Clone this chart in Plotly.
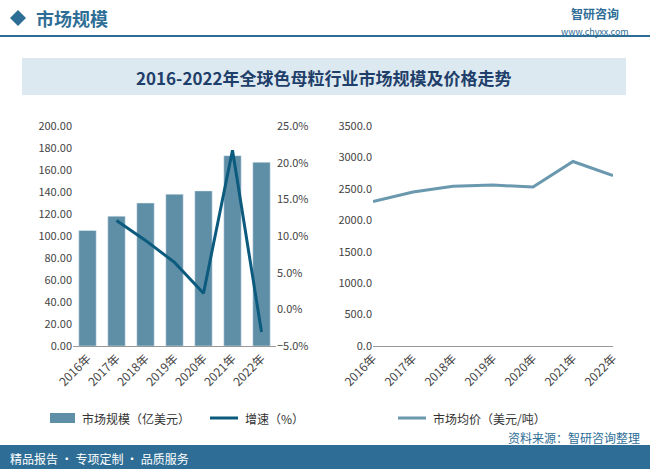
import plotly.graph_objects as go

years = ["2016年", "2017年", "2018年", "2019年", "2020年", "2021年", "2022年"]
market_size = [105, 118, 130, 138, 141, 173, 167]
growth_years = ["2017年", "2018年", "2019年", "2020年", "2021年", "2022年"]
growth = [12.1, 9.4, 6.4, 2.2, 21.7, -3.1]
price = [2300, 2450, 2540, 2560, 2530, 2935, 2710]

H = 469.0
def py(pix):
    return 1 - pix / H

F = "Noto Sans CJK SC"
fig = go.Figure()
fig.add_bar(x=years, y=market_size, marker_color="#5f8fa6", width=0.6, xaxis="x", yaxis="y", showlegend=False)
fig.add_scatter(x=growth_years, y=growth, mode="lines", line=dict(color="#0c5a7d", width=3), xaxis="x", yaxis="y2", showlegend=False)
fig.add_scatter(x=years, y=price, mode="lines", line=dict(color="#6a98ae", width=3), xaxis="x3", yaxis="y3", showlegend=False)

ydom = [py(346), py(126)]
tickf = dict(size=11, color="#444", family=F)
xtickf = dict(size=12, color="#444", family=F)
def ann(text, x, y, size, color, xanchor="left"):
    return dict(text=text, x=x/650, y=py(y), xref="paper", yref="paper", xanchor=xanchor, yanchor="middle", showarrow=False, font=dict(size=size, color=color, family=F))

fig.update_layout(
    width=650, height=469, margin=dict(l=0, r=0, t=0, b=0, autoexpand=False), autosize=False,
    paper_bgcolor="white", plot_bgcolor="rgba(0,0,0,0)", font=dict(family=F),
    xaxis=dict(domain=[73/650, 276/650], tickangle=-45, tickfont=xtickf, showline=True, linecolor="#999", categoryarray=years, categoryorder="array", anchor="y", automargin=False),
    yaxis=dict(domain=ydom, range=[0, 200], dtick=20, tickformat=".2f", tickfont=tickf, showgrid=False, zeroline=False, automargin=False),
    yaxis2=dict(overlaying="y", side="right", anchor="x", range=[-5, 25], dtick=5, ticksuffix="%", tickformat=".1f", tickfont=tickf, showgrid=False, zeroline=False, automargin=False),
    xaxis3=dict(domain=[373/650, 613/650], tickangle=-45, tickfont=xtickf, showline=True, linecolor="#999", anchor="y3", automargin=False),
    yaxis3=dict(domain=ydom, anchor="x3", range=[0, 3500], dtick=500, tickformat=".1f", tickfont=tickf, showgrid=False, zeroline=False, automargin=False),
    shapes=[
        dict(type="rect", xref="paper", yref="paper", x0=22/650, x1=626/650, y0=py(95), y1=py(58), fillcolor="#dde9f1", line=dict(width=0), layer="below"),
        dict(type="line", xref="paper", yref="paper", x0=0, x1=1, y0=py(36), y1=py(36), line=dict(color="#2e6e96", width=2)),
        dict(type="path", xref="paper", yref="paper", path=f"M {10/650} {py(18)} L {18/650} {py(10)} L {26/650} {py(18)} L {18/650} {py(26)} Z", fillcolor="#2e6e96", line=dict(width=0)),
        dict(type="rect", xref="paper", yref="paper", x0=0, x1=1, y0=0, y1=py(445), fillcolor="#2e6e96", line=dict(width=0), layer="below"),
        dict(type="rect", xref="paper", yref="paper", x0=50/650, x1=75/650, y0=py(423), y1=py(413), fillcolor="#5f8fa6", line=dict(width=0)),
        dict(type="line", xref="paper", yref="paper", x0=210/650, x1=238/650, y0=py(418), y1=py(418), line=dict(color="#0c5a7d", width=3)),
        dict(type="line", xref="paper", yref="paper", x0=398/650, x1=426/650, y0=py(418), y1=py(418), line=dict(color="#6a98ae", width=3)),
    ],
    annotations=[
        ann("<b>市场规模</b>", 34, 18, 18, "#2e6e96"),
        ann("<b>智研咨询</b>", 595, 14, 12, "#2e6e96", "center"),
        ann("www.chyxx.com", 595, 31, 9, "#2e6e96", "center"),
        ann("<b>2016-2022年全球色母粒行业市场规模及价格走势</b>", 324, 77, 17, "#1f3f6a", "center"),
        ann("市场规模（亿美元）", 80, 418, 12, "#333"),
        ann("增速（%）", 243, 418, 12, "#333"),
        ann("市场均价（美元/吨）", 431, 418, 12, "#333"),
        ann("资料来源：智研咨询整理", 642, 437, 12, "#2e6e96", "right"),
        ann("精品报告 · 专项定制 · 品质服务", 8, 458, 12, "white"),
    ],
)
fig.write_html("out.html", config={"displayModeBar": False},
               post_script="document.body.style.margin='0';document.body.style.padding='0';document.documentElement.style.margin='0';")
